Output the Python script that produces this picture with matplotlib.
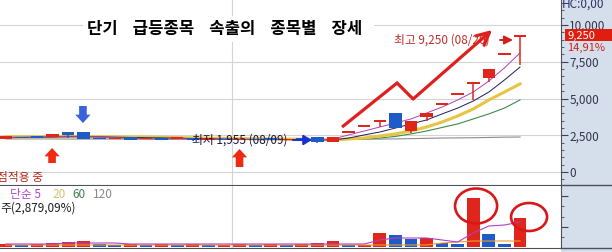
import matplotlib
matplotlib.use("Agg")
import matplotlib.pyplot as plt
import matplotlib.transforms as mtransforms
from matplotlib.patches import Ellipse, Rectangle
from matplotlib.lines import Line2D
from matplotlib.ticker import MultipleLocator
import numpy as np

plt.rcParams["font.family"] = ["Noto Sans CJK KR", "DejaVu Sans"]

# daily candles (34 sessions), price in won
OPEN = [2250, 2380, 2450, 2390, 2720, 2720, 2310, 2250, 2380, 2250, 2300, 2260,
        2270, 2200, 2240, 2180, 2230, 2260, 2180, 2260, 2390, 2050, 2700, 3120,
        3460, 4010, 2790, 3740, 4610, 5290, 6040, 6400, 8010, 9230]
HIGH = [2460, 2390, 2460, 2590, 2720, 2740, 2320, 2320, 2390, 2310, 2310, 2340,
        2330, 2260, 2250, 2240, 2240, 2270, 2270, 2270, 2400, 2390, 2730, 3145,
        3480, 4010, 3470, 4010, 4640, 5320, 6070, 7010, 8040, 9250]
LOW = [2230, 2290, 2340, 2380, 2320, 2230, 2240, 2240, 2170, 2240, 2220, 2250,
       2120, 2190, 2170, 2170, 2160, 2180, 2170, 2200, 1955, 2030, 2690, 3115,
       3060, 2990, 2650, 3470, 4610, 5290, 4900, 6120, 8010, 7280]
CLOSE = [2440, 2300, 2350, 2580, 2520, 2250, 2250, 2310, 2180, 2300, 2230, 2330,
         2200, 2250, 2180, 2230, 2170, 2190, 2260, 2210, 2040, 2380, 2725, 3140,
         3480, 2990, 3470, 4010, 4640, 5320, 6070, 7010, 8040, 9250]
VOLUME = [30000, 20000, 30000, 40000, 50000, 60000, 30000, 20000, 30000, 20000,
          30000, 20000, 30000, 20000, 20000, 30000, 20000, 30000, 20000, 30000,
          40000, 60000, 20000, 25000, 140000, 120000, 80000, 90000, 40000, 30000,
          490000, 130000, 30000, 290000]

# moving averages (simple 5 / 10 / 20 / 60 / 120)
MA5 = [2330, 2350, 2370, 2400, 2440, 2420, 2380, 2330, 2290, 2260, 2250, 2260,
       2250, 2230, 2230, 2220, 2210, 2210, 2200, 2200, 2180, 2250, 2520, 2790,
       3060, 3330, 3610, 4010, 4420, 4900, 5440, 6190, 7080, 8100]
MA10 = [2360, 2360, 2370, 2380, 2400, 2400, 2390, 2370, 2350, 2330, 2320, 2300,
        2280, 2260, 2240, 2230, 2220, 2220, 2210, 2200, 2190, 2180, 2310, 2520,
        2720, 2990, 3270, 3540, 3950, 4350, 4830, 5440, 6260, 7140]
MA20 = [2400, 2400, 2400, 2400, 2410, 2410, 2400, 2390, 2380, 2370, 2360, 2340,
        2320, 2300, 2290, 2270, 2260, 2250, 2240, 2230, 2200, 2190, 2250, 2310,
        2450, 2590, 2790, 3060, 3400, 3810, 4290, 4900, 5440, 5990]
MA60 = [2380, 2380, 2380, 2370, 2370, 2360, 2350, 2340, 2330, 2320, 2310, 2300,
        2290, 2280, 2270, 2260, 2240, 2230, 2220, 2210, 2190, 2180, 2210, 2250,
        2310, 2420, 2590, 2790, 3030, 3270, 3610, 3950, 4350, 4900]
MA120 = [2250, 2250, 2250, 2250, 2240, 2240, 2240, 2240, 2230, 2230, 2230, 2230,
         2220, 2220, 2220, 2220, 2210, 2210, 2210, 2210, 2210, 2210, 2220, 2230,
         2240, 2250, 2270, 2290, 2310, 2320, 2330, 2350, 2370, 2380]
VOL_MA5 = [30000, 30000, 30000, 30000, 40000, 40000, 40000, 40000, 30000, 30000,
           30000, 30000, 30000, 30000, 30000, 30000, 30000, 30000, 30000, 30000,
           30000, 30000, 30000, 30000, 70000, 90000, 90000, 90000, 70000, 50000,
           140000, 210000, 220000, 250000]
VOL_MA20 = [20000] * 28 + [40000, 50000, 60000, 60000, 60000, 60000]

PRICE_TICKS = [0, 2500, 5000, 7500, 10000]
PRICE_TICK_LABELS = ["0", "2,500", "5,000", "7,500", "10,000"]
MA_LEGEND = ["단순 5", "20", "60", "120"]

HIGH_IDX = 33
LOW_IDX = 20
MONTH_SPLIT = 14.52
# hand drawn zig-zag arrow (candle index, price)
ZIG_X = [21.58, 25.11, 26.14, 31.21]
ZIG_Y = [3061, 6055, 4966, 9660]

RED = "#e0261a"
BLUE = "#1f5bc6"
W, H = 612, 252

fig = plt.figure(figsize=(W / 100, H / 100), dpi=100)
ax = fig.add_axes([0, 67 / H, 561 / W, 185 / H])
axv = fig.add_axes([0, 4 / H, 561 / W, 62 / H])
fig.add_artist(Rectangle((561 / W, 0), 51 / W, 1, transform=fig.transFigure,
                         facecolor="#d5dfeb", edgecolor="none", zorder=-1))
for yy in (67 / H, 4 / H):
    fig.add_artist(Line2D([561 / W, 1], [yy, yy], transform=fig.transFigure,
                          color="#505058", lw=1.0))

x = np.arange(len(CLOSE))
o, c = np.array(OPEN), np.array(CLOSE)
up = c >= o
cols = np.where(up, RED, BLUE)
raw_h = np.abs(c - o)
body_h = np.maximum(raw_h, 110)
body_lo = np.minimum(o, c) - (body_h - raw_h) / 2

# price panel
ax.plot(x, MA120, color="#8c8c8c", lw=0.8, zorder=2)
ax.plot(x, MA60, color="#3c8a4c", lw=0.8, zorder=2)
ax.plot(x, MA20, color="#e6c542", lw=2.2, zorder=2)
ax.plot(x, MA10, color="#1c1c5a", lw=0.7, zorder=2)
ax.plot(x, MA5, color="#b040c0", lw=0.7, zorder=2)
ax.vlines(x, LOW, HIGH, colors=cols, lw=1.1, zorder=3)
ax.bar(x, body_h, bottom=body_lo, width=0.8, color=cols, lw=0, zorder=4)

ax.set_xlim(-0.372, 35.63)
ax.set_ylim(-884, 11701)
ax.yaxis.tick_right()
ax.set_yticks(PRICE_TICKS)
ax.set_yticklabels(PRICE_TICK_LABELS)
ax.yaxis.set_minor_locator(MultipleLocator(500))
ax.tick_params(axis="y", which="major", length=5, color="#404050", pad=1,
               labelsize=8.5, labelcolor="#34344c")
ax.tick_params(axis="y", which="minor", length=2.5, color="#404050")
ax.set_xticks([])
ax.grid(axis="y", color="#d4d4d4", lw=0.8, zorder=0)
ax.axvline(MONTH_SPLIT, color="#d4d4d4", lw=0.8, zorder=0)
for s in ("left", "top"):
    ax.spines[s].set_visible(False)
ax.spines["right"].set_color("#505058")
ax.spines["bottom"].set_color("#505058")

ax.text(0.155, 0.843, "단기    급등종목    속출의    종목별    장세  ", transform=ax.transAxes,
        fontsize=12, fontweight="bold", va="center", ha="left", color="black",
        bbox=dict(facecolor="white", edgecolor="none", pad=3), zorder=5)

# highest / lowest marks
ax.text(24.92, 8980, "최고 9,250 (08/20)", color="#c03028", fontsize=8.5,
        va="center", ha="left", zorder=5)
ax.annotate("", xy=(32.55, 8980), xytext=(31.72, 8980),
            arrowprops=dict(arrowstyle="-|>,head_length=0.5,head_width=0.25",
                            color="#d02018", lw=1.4, shrinkA=0, shrinkB=0), zorder=6)
ax.text(11.95, 2177, "최저 1,955 (08/09)", color="#1a1a40", fontsize=8.5,
        va="center", ha="left", zorder=5)
ax.annotate("", xy=(19.65, 2177), xytext=(18.43, 2177),
            arrowprops=dict(arrowstyle="-|>,head_length=0.5,head_width=0.3",
                            color="#1a30d0", lw=1.4, shrinkA=0, shrinkB=0), zorder=6)

# red zig-zag
ax.plot(ZIG_X[:3], ZIG_Y[:3], color="#e0201c", lw=2.3, solid_joinstyle="miter",
        solid_capstyle="butt", zorder=6)
ax.annotate("", xy=(ZIG_X[3], ZIG_Y[3]), xytext=(ZIG_X[2], ZIG_Y[2]),
            arrowprops=dict(arrowstyle="->,head_length=0.9,head_width=0.45",
                            color="#e0201c", lw=2.3, shrinkA=0, shrinkB=0), zorder=6)

# fat arrows
fat = "simple,head_length=0.6,head_width=1.1,tail_width=0.55"
ax.annotate("", xy=(4.95, 3333), xytext=(4.95, 4490),
            arrowprops=dict(arrowstyle=fat, color="#3a62dc", lw=0,
                            mutation_scale=10, shrinkA=0, shrinkB=0), zorder=6)
for xi, y_tip, y_tail in [(2.97, 1633, 612), (15.0, 1565, 340)]:
    ax.annotate("", xy=(xi, y_tip), xytext=(xi, y_tail),
                arrowprops=dict(arrowstyle=fat, color="#ee2a12", lw=0,
                                mutation_scale=10, shrinkA=0, shrinkB=0), zorder=6)

ax.text(-0.006, 0.038, "점적용 중", transform=ax.transAxes, color="#b02818",
        fontsize=8.5, va="center", ha="left", clip_on=True)

# right scale extras
blend = mtransforms.blended_transform_factory(ax.transAxes, ax.transData)
ax.add_patch(Rectangle((565 / 561, 8912), 47 / 561, 816, transform=blend,
                       facecolor="#e01e10", edgecolor="none", clip_on=False, zorder=6))
ax.text(567 / 561, HIGH[HIGH_IDX], "9,250", transform=blend, color="white",
        fontsize=8, va="center", ha="left", zorder=7, clip_on=False)
ax.text(567 / 561, 8440, "14,91%", transform=blend, color="#d02018",
        fontsize=8, va="center", ha="left", zorder=7, clip_on=False)
fig.text(562 / W, 1 - 4 / H, "HC:0,00", color="#30306a", fontsize=8.5,
         va="center", ha="left")

# volume panel
vol = np.array(VOLUME)
vup = np.r_[True, np.diff(vol) >= 0]
axv.bar(x, vol, width=0.82, color=np.where(vup, RED, BLUE), lw=0, zorder=3)
axv.plot(x, VOL_MA20, color="#e8a030", lw=0.8, zorder=4)
axv.plot(x, VOL_MA5, color="#b040c0", lw=0.8, zorder=4)
axv.set_xlim(-0.372, 35.63)
axv.set_ylim(-10000, 610000)
axv.set_xticks([])
axv.yaxis.tick_right()
axv.set_yticks([200000, 510000])
axv.set_yticklabels([])
axv.set_yticks([100000, 300000, 410000], minor=True)
axv.tick_params(axis="y", which="major", length=5, color="#404050")
axv.tick_params(axis="y", which="minor", length=2.5, color="#404050")
axv.axvline(MONTH_SPLIT, color="#d4d4d4", lw=0.8, zorder=0)
axv.spines["left"].set_visible(False)
axv.spines["top"].set_visible(False)
axv.spines["right"].set_color("#505058")
axv.spines["bottom"].set_color("#505058")

for cx, cy, ew, eh in [(30.18, 410000, 2.7, 350000), (33.58, 300000, 2.31, 280000)]:
    axv.add_patch(Ellipse((cx, cy), ew, eh, fill=False, edgecolor="#d81818",
                          lw=1.9, clip_on=False, zorder=6))

leg_colors = ["#a848c8", "#d8c070", "#3c8050", "#8a8a8a"]
leg_x = [10, 52, 72, 93]
for lab, lc, lx in zip(MA_LEGEND, leg_colors, leg_x):
    axv.text(lx / 561, 0.87, lab, transform=axv.transAxes, color=lc,
             fontsize=8.5, va="center", ha="left")
axv.text(0.0, 0.645, "주(2,879,09%)", transform=axv.transAxes, color="#202020",
         fontsize=8.5, va="center", ha="left")

fig.savefig("out.png", dpi=100)
